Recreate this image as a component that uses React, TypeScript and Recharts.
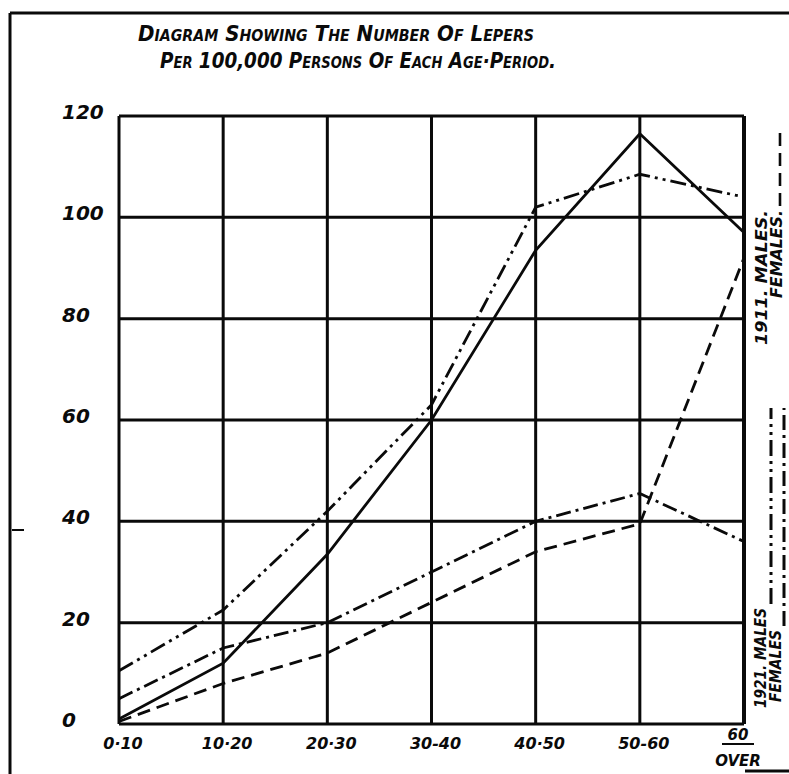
import React from 'react';
import { LineChart, Line, XAxis, YAxis, CartesianGrid } from 'recharts';

const categories = ['0-10', '10-20', '20-30', '30-40', '40-50', '50-60', '60 over'];
const tickLabels = ['0·10', '10·20', '20·30', '30-40', '40·50', '50-60', '60'];
const yTicks = [0, 20, 40, 60, 80, 100, 120];

// lepers per 100,000 persons
const males1911 = [1, 12, 33.5, 60, 93.5, 116.5, 97];
const females1911 = [0.5, 8, 14, 24, 34, 39.5, 92];
const males1921 = [10.5, 22.5, 42, 63, 102, 108.5, 104];
const females1921 = [5, 15, 20, 30, 40, 45.5, 36];

const data = categories.map((c, i) => ({
  age: c,
  m1911: males1911[i],
  f1911: females1911[i],
  m1921: males1921[i],
  f1921: females1921[i],
}));

const INK = '#0a0a0a';
const FONT = '"DejaVu Sans", sans-serif';

const DASH_F1911 = '13 7';
const DASH_M1921 = '16 5 3 5 3 5';
const DASH_F1921 = '15 5 3 5';

const XTick = ({ x, y, index }: any) => {
  const label = tickLabels[index];
  if (index === categories.length - 1) {
    return (
      <g fill={INK} fontFamily={FONT} fontWeight="bold" fontStyle="italic">
        <text x={x - 6} y={y + 16} textAnchor="middle" fontSize={15}>{label}</text>
        <line x1={x - 22} x2={x + 10} y1={y + 20} y2={y + 20} stroke={INK} strokeWidth={2} />
        <text x={x - 6} y={y + 42} textAnchor="middle" fontSize={15}>OVER</text>
      </g>
    );
  }
  return (
    <text x={x + 4} y={y + 25} textAnchor="middle" fill={INK} fontFamily={FONT}
      fontWeight="bold" fontStyle="italic" fontSize={16}>
      {label}
    </text>
  );
};

const YTick = ({ y, payload }: any) => (
  <text x={62} y={y + 3} textAnchor="start" fill={INK} fontFamily={FONT}
    fontWeight="bold" fontStyle="italic" fontSize={20}>
    {payload.value}
  </text>
);

export default function App() {
  return (
    <div style={{ position: 'absolute', left: 0, top: 0, width: 789, height: 774, background: '#fff' }}>
      <LineChart width={789} height={774} data={data}
        margin={{ top: 116, right: 45, bottom: 0, left: 0 }}>
        <CartesianGrid stroke={INK} strokeWidth={3} />
        <XAxis dataKey="age" axisLine={false} tickLine={false} tickSize={0} tickMargin={0}
          height={50} interval={0} tick={<XTick />} />
        <YAxis domain={[0, 120]} ticks={yTicks} axisLine={false} tickLine={false}
          width={119} tick={<YTick />} />
        <Line dataKey="m1911" stroke={INK} strokeWidth={2.8} dot={false} isAnimationActive={false} />
        <Line dataKey="f1911" stroke={INK} strokeWidth={2.8} strokeDasharray={DASH_F1911}
          dot={false} isAnimationActive={false} />
        <Line dataKey="m1921" stroke={INK} strokeWidth={2.8} strokeDasharray={DASH_M1921}
          dot={false} isAnimationActive={false} />
        <Line dataKey="f1921" stroke={INK} strokeWidth={2.8} strokeDasharray={DASH_F1921}
          dot={false} isAnimationActive={false} />
      </LineChart>

      <svg width={789} height={774} style={{ position: 'absolute', left: 0, top: 0, pointerEvents: 'none' }}>
        {/* page frame */}
        <line x1={10} x2={789} y1={13} y2={13} stroke={INK} strokeWidth={3} />
        <line x1={10} x2={10} y1={13} y2={774} stroke={INK} strokeWidth={3} />
        <line x1={12} x2={24} y1={530} y2={530} stroke={INK} strokeWidth={2} />
        <line x1={744} x2={744} y1={116} y2={724} stroke={INK} strokeWidth={4} />
        <line x1={745} x2={789} y1={771} y2={771} stroke={INK} strokeWidth={3} />

        {/* title */}
        <g fill={INK} fontFamily={FONT} fontWeight="bold" fontStyle="italic" style={{ fontVariant: 'small-caps' }}>
          <text x={138} y={41} fontSize={21} textLength={396} lengthAdjust="spacingAndGlyphs">
            Diagram Showing The Number Of Lepers
          </text>
          <text x={160} y={68} fontSize={21} textLength={396} lengthAdjust="spacingAndGlyphs">
            Per 100,000 Persons Of Each Age·Period.
          </text>
        </g>

        {/* legend, 1911 */}
        <g fill={INK} fontFamily={FONT} fontWeight="bold" fontStyle="italic" fontSize={16}>
          <text transform="translate(767,345) rotate(-90)" textLength={135} lengthAdjust="spacingAndGlyphs">1911. MALES.</text>
          <text transform="translate(782,298) rotate(-90)" textLength={88} lengthAdjust="spacingAndGlyphs">FEMALES.</text>
        </g>
        <line x1={780} x2={780} y1={206} y2={128} stroke={INK} strokeWidth={2.6} strokeDasharray={DASH_F1911} />

        {/* legend, 1921 */}
        <g fill={INK} fontFamily={FONT} fontWeight="bold" fontStyle="italic" fontSize={15}>
          <text transform="translate(766,708) rotate(-90)" textLength={100} lengthAdjust="spacingAndGlyphs">1921. MALES</text>
          <text transform="translate(781,702) rotate(-90)" textLength={72} lengthAdjust="spacingAndGlyphs">FEMALES</text>
        </g>
        <line x1={771} x2={771} y1={604} y2={408} stroke={INK} strokeWidth={3} strokeDasharray={DASH_M1921} />
        <line x1={784} x2={784} y1={626} y2={408} stroke={INK} strokeWidth={3} strokeDasharray={DASH_F1921} />
      </svg>
    </div>
  );
}
